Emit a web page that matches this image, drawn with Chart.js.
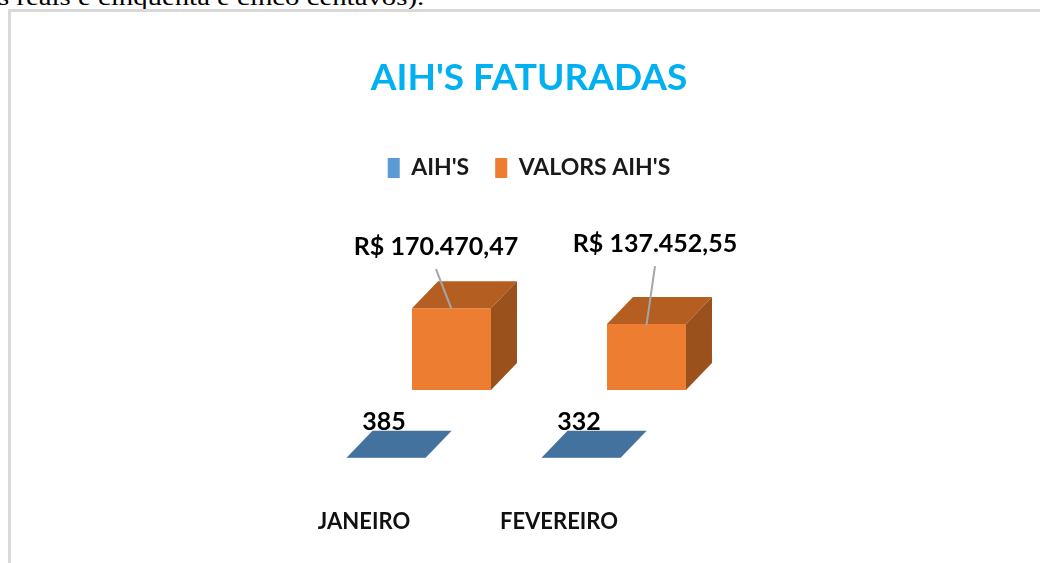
<!DOCTYPE html>
<html>
<head>
<meta charset="utf-8">
<script src="https://cdn.jsdelivr.net/npm/chart.js@4.4.1/dist/chart.umd.min.js"></script>
<style>
  html, body { margin: 0; padding: 0; background: #fff; overflow: hidden; }
  #texto { position: absolute; left: -2px; top: -15px; font: 24px 'Liberation Serif', 'Times New Roman', serif; line-height: 24px; color: #000; white-space: nowrap; transform: scaleX(1.2); transform-origin: 0 0; }
  #moldura { position: absolute; left: 8px; top: 9px; width: 1100px; height: 600px; border: 3px solid #d9d9d9; }
  #chartContainer { position: absolute; left: 0; top: 0; width: 1040px; height: 563px; }
</style>
</head>
<body>
<div id="texto">s reais e cinquenta e cinco centavos).</div>
<div id="moldura"></div>
<div id="chartContainer"><canvas id="myChart" width="1040" height="563"></canvas></div>
<script>
const months = ['JANEIRO', 'FEVEREIRO'];
const aihCount = [385, 332];
const aihValues = [170470.47, 137452.55];
const seriesNames = ["AIH'S", "VALORS AIH'S"];

const font = "Lato, 'Open Sans', sans-serif";

// depth of each box and shift of the front row (AIH'S sits in front of the values)
const depth = { dx: 26, dy: -27 };
const rowShift = { dx: -65.5, dy: 68 };
const faces = [
  { top: '#44729e', side: '#345a7e' },
  { top: '#b45e22', side: '#9a511c' }
];

function brl(v) {
  const parts = v.toFixed(2).split('.');
  return 'R$ ' + parts[0].replace(/\B(?=(\d{3})+(?!\d))/g, '.') + ',' + parts[1];
}

const cubePlugin = {
  id: 'cube3d',
  beforeDatasetDraw(chart, args) {
    const ctx = chart.ctx;
    ctx.save();
    if (args.index === 0) ctx.translate(rowShift.dx, rowShift.dy);
  },
  afterDatasetDraw(chart, args) {
    const ctx = chart.ctx;
    const f = faces[args.index];
    args.meta.data.forEach(bar => {
      const p = bar.getProps(['x', 'y', 'base', 'width'], true);
      const l = p.x - p.width / 2, r = p.x + p.width / 2, t = p.y, b = p.base;
      ctx.fillStyle = f.top;
      ctx.beginPath();
      ctx.moveTo(l, t); ctx.lineTo(r, t); ctx.lineTo(r + depth.dx, t + depth.dy); ctx.lineTo(l + depth.dx, t + depth.dy);
      ctx.closePath(); ctx.fill();
      ctx.fillStyle = f.side;
      ctx.beginPath();
      ctx.moveTo(r, t); ctx.lineTo(r + depth.dx, t + depth.dy); ctx.lineTo(r + depth.dx, b + depth.dy); ctx.lineTo(r, b);
      ctx.closePath(); ctx.fill();
    });
    ctx.restore();
  },
  afterDatasetsDraw(chart, args, opts) {
    const ctx = chart.ctx;
    ctx.save();
    ctx.fillStyle = '#000';
    ctx.textAlign = 'center';
    ctx.textBaseline = 'alphabetic';
    ctx.font = 'bold 25px ' + font;
    // counts, on the front row
    chart.getDatasetMeta(0).data.forEach((bar, i) => {
      const p = bar.getProps(['x', 'y'], true);
      ctx.fillText(String(aihCount[i]), p.x + rowShift.dx - 2, p.y + rowShift.dy + depth.dy - 1);
    });
    // values with leader lines
    chart.getDatasetMeta(1).data.forEach((bar, i) => {
      const p = bar.getProps(['x', 'y'], true);
      const off = opts.callout[i];
      const cx = p.x + off[0], by = p.y + off[1];
      ctx.strokeStyle = '#a6a6a6';
      ctx.lineWidth = 2;
      ctx.beginPath();
      ctx.moveTo(cx, by + 14);
      ctx.lineTo(p.x, p.y + 1);
      ctx.stroke();
      ctx.fillText(brl(aihValues[i]), cx, by);
    });
    ctx.restore();
  }
};

const ctx = document.getElementById('myChart').getContext('2d');
const chart = new Chart(ctx, {
  type: 'bar',
  data: {
    labels: months,
    datasets: [
      { label: seriesNames[0], data: aihCount, backgroundColor: '#5b9bd5', grouped: false, clip: false },
      { label: seriesNames[1], data: aihValues, backgroundColor: '#ed7d31', grouped: false, clip: false }
    ]
  },
  options: {
    responsive: false,
    animation: false,
    categoryPercentage: 1,
    barPercentage: 0.405,
    layout: { padding: { left: 18, right: 0, top: 20, bottom: 25 } },
    plugins: {
      title: {
        display: true,
        text: "AIH'S FATURADAS",
        color: '#00b0f0',
        font: { family: font, size: 37, weight: 'bold' },
        padding: { top: 36, bottom: 30 }
      },
      legend: {
        labels: {
          boxWidth: 12,
          boxHeight: 20,
          padding: 26,
          color: '#1a1a1a',
          font: { family: font, size: 23, weight: 'bold' }
        }
      },
      tooltip: { enabled: false },
      cube3d: { callout: [[-15.5, -53], [8.5, -72]] }
    },
    scales: {
      x: {
        grid: { display: false, drawTicks: false },
        border: { display: false },
        ticks: { labelOffset: -87.5, padding: 119, maxRotation: 0, color: '#111', font: { family: font, size: 22, weight: 'bold' } },
        afterFit(scale) { scale.height = 148; }
      },
      y: {
        position: 'left',
        min: 0,
        max: 418000,
        grid: { display: false, drawTicks: false },
        border: { display: false },
        ticks: { display: false },
        afterFit(scale) { scale.width = 336; }
      },
      y2: {
        position: 'right',
        grid: { display: false, drawTicks: false },
        border: { display: false },
        ticks: { display: false },
        afterFit(scale) { scale.width = 296; }
      }
    }
  },
  plugins: [cubePlugin]
});
</script>
</body>
</html>
